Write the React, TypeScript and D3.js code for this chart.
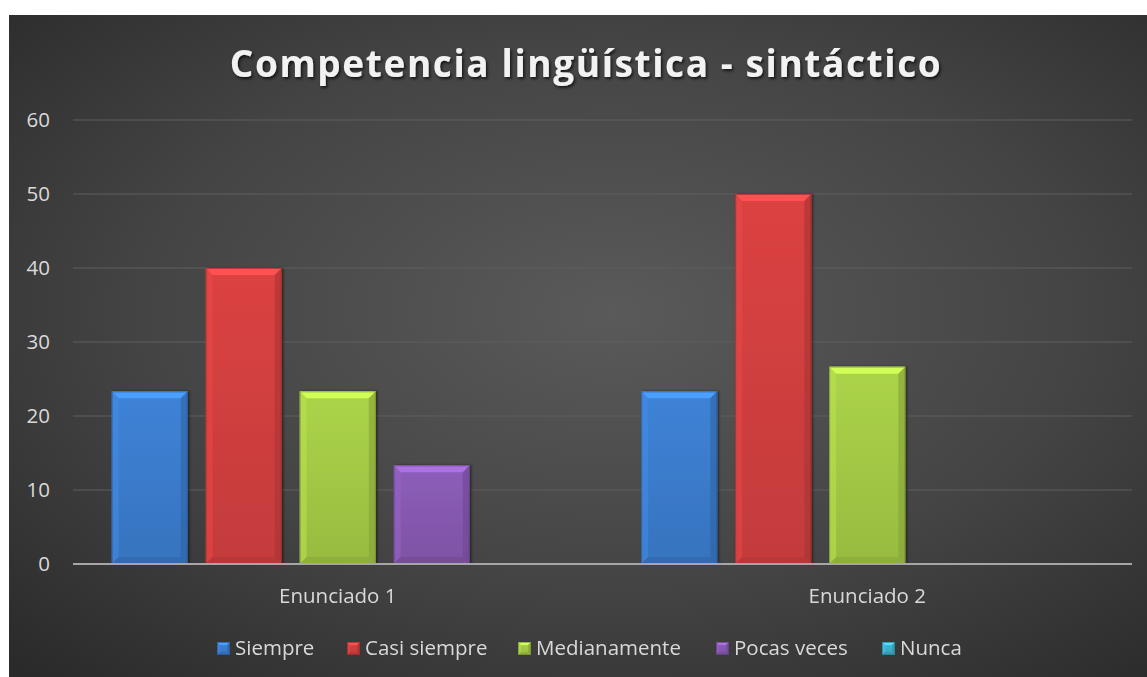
import React from "react";
import * as d3 from "d3";

const categories = ["Enunciado 1", "Enunciado 2"];
const seriesNames = ["Siempre", "Casi siempre", "Medianamente", "Pocas veces", "Nunca"];
const siempre = [23.33, 23.33];
const casiSiempre = [40, 50];
const medianamente = [23.33, 26.67];
const pocasVeces = [13.33, 0];
const nunca = [0, 0];
const seriesValues = [siempre, casiSiempre, medianamente, pocasVeces, nunca];
const yTicks = [0, 10, 20, 30, 40, 50, 60];
const seriesColors = ["#3b7ccc", "#d13f3f", "#a3c945", "#8659b0", "#3fb0cc"];
const title = "Competencia lingüística - sintáctico";

const W = 1147;
const H = 677;
const FONT = "'Open Sans', Lato, sans-serif";

function Bar({ x, y, w, h, color, id, bevel = 7 }: any) {
  if (h <= 0) return null;
  const b = Math.min(bevel, h / 2, w / 2);
  const light = d3.color(color)!.brighter(0.7).formatHex();
  const lighter = d3.color(color)!.brighter(0.35).formatHex();
  const dark = d3.color(color)!.darker(0.6).formatHex();
  const darker = d3.color(color)!.darker(1.2).formatHex();
  return (
    <g>
      <rect x={x} y={y} width={w} height={h} fill={`url(#grad-${id})`} />
      <path d={`M${x},${y}L${x + w},${y}L${x + w - b},${y + b}L${x + b},${y + b}Z`} fill={light} />
      <path d={`M${x},${y}L${x + b},${y + b}L${x + b},${y + h - b}L${x},${y + h}Z`} fill={lighter} opacity={0.55} />
      <path d={`M${x + w},${y}L${x + w - b},${y + b}L${x + w - b},${y + h - b}L${x + w},${y + h}Z`} fill={dark} opacity={0.6} />
      <path d={`M${x},${y + h}L${x + b},${y + h - b}L${x + w - b},${y + h - b}L${x + w},${y + h}Z`} fill={dark} opacity={0.5} />
      <rect x={x + 0.5} y={y + 0.5} width={w - 1} height={h - 1} fill="none" stroke={darker} strokeWidth={1} opacity={0.6} />
    </g>
  );
}

export default function App() {
  const plotLeft = 73;
  const plotRight = 1132;
  const plotTop = 120;
  const plotBottom = 564;

  const y = d3.scaleLinear().domain([0, 60]).range([plotBottom, plotTop]);
  const x0 = d3
    .scaleBand<string>()
    .domain(categories)
    .range([plotLeft, plotRight])
    .paddingInner(0.146)
    .paddingOuter(0.073);
  const x1 = d3
    .scaleBand<string>()
    .domain(seriesNames)
    .range([0, x0.bandwidth()])
    .paddingInner(0.19)
    .paddingOuter(0);

  const legendX = [217, 347, 518, 716, 882];

  return (
    <svg
      width={W}
      height={H}
      style={{ position: "absolute", left: 0, top: 0, display: "block" }}
      fontFamily={FONT}
    >
      <defs>
        <radialGradient id="bg" cx="0.53" cy="0.45" r="0.75" gradientUnits="objectBoundingBox">
          <stop offset="0" stopColor="#5a5a5a" />
          <stop offset="0.55" stopColor="#444444" />
          <stop offset="1" stopColor="#2a2a2a" />
        </radialGradient>
        {seriesColors.map((c, i) => (
          <linearGradient key={i} id={`grad-${i}`} x1="0" y1="0" x2="0" y2="1">
            <stop offset="0" stopColor={d3.color(c)!.brighter(0.15).formatHex()} />
            <stop offset="1" stopColor={d3.color(c)!.darker(0.2).formatHex()} />
          </linearGradient>
        ))}
        <filter id="shadow" x="-10%" y="-30%" width="120%" height="160%">
          <feDropShadow dx="1.5" dy="2" stdDeviation="1.5" floodColor="#000" floodOpacity="0.7" />
        </filter>
        <filter id="barShadow" x="-20%" y="-10%" width="140%" height="120%">
          <feDropShadow dx="1.5" dy="0" stdDeviation="1.2" floodColor="#000" floodOpacity="0.45" />
        </filter>
      </defs>

      <rect x={0} y={0} width={W} height={H} fill="#ffffff" />
      <rect x={9} y={15} width={W - 9} height={H - 15} fill="url(#bg)" />

      <text
        x={586}
        y={77}
        textAnchor="middle"
        fill="#f2f2f2"
        fontSize={37}
        fontWeight={700}
        letterSpacing={1.6}
        filter="url(#shadow)"
      >
        {title}
      </text>

      {yTicks.map((t) => (
        <g key={t}>
          {t !== 0 && (
            <line x1={plotLeft} x2={plotRight} y1={y(t)} y2={y(t)} stroke="#5e5e5e" strokeWidth={1.2} />
          )}
          <text x={50} y={y(t)} dy="0.36em" textAnchor="end" fill="#d9d9d9" fontSize={20.5}>
            {t}
          </text>
        </g>
      ))}

      {categories.map((cat, ci) => (
        <g key={cat} filter="url(#barShadow)">
          {seriesNames.map((s, si) => {
            const v = seriesValues[si][ci];
            const bx = (x0(cat) ?? 0) + (x1(s) ?? 0);
            return (
              <Bar
                key={s}
                x={bx}
                y={y(v)}
                w={x1.bandwidth()}
                h={y(0) - y(v)}
                color={seriesColors[si]}
                id={si}
              />
            );
          })}
        </g>
      ))}

      <line x1={plotLeft} x2={plotRight} y1={y(0)} y2={y(0)} stroke="#a6a6a6" strokeWidth={2.2} />

      {categories.map((cat) => (
        <text
          key={cat}
          x={(x0(cat) ?? 0) + x0.bandwidth() / 2}
          y={603}
          textAnchor="middle"
          fill="#d9d9d9"
          fontSize={20.5}
        >
          {cat}
        </text>
      ))}

      {seriesNames.map((name, i) => (
        <g key={name}>
          <Bar x={legendX[i]} y={642} w={13} h={13} color={seriesColors[i]} id={i} bevel={3} />
          <text x={legendX[i] + 18} y={655} fill="#d9d9d9" fontSize={20.5}>
            {name}
          </text>
        </g>
      ))}
    </svg>
  );
}
